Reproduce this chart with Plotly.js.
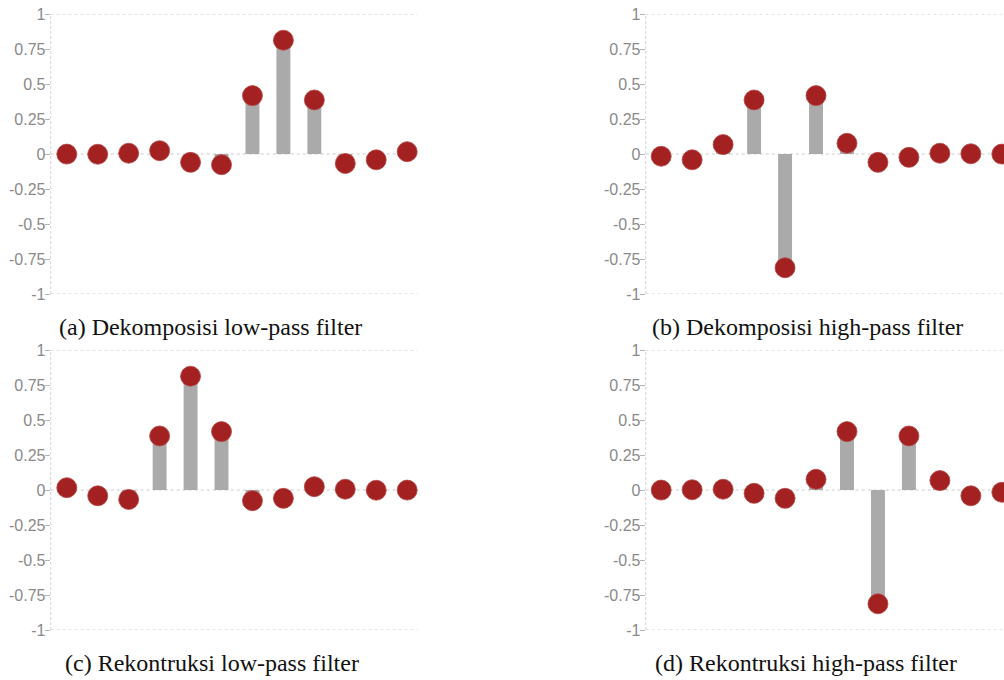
<!DOCTYPE html>
<html>
<head>
<meta charset="utf-8">
<script src="https://cdn.plot.ly/plotly-3.0.1.min.js"></script>
<style>
html,body{margin:0;padding:0;background:#fff;}
#chart{width:1004px;height:680px;}
</style>
</head>
<body>
<div id="chart"></div>
<script>
// Filter coefficients (12 taps each)
const taps = [0,1,2,3,4,5,6,7,8,9,10,11];
const decLow  = [-0.0007, -0.0018, 0.0056, 0.0237, -0.0594, -0.0765, 0.4170, 0.8127, 0.3861, -0.0674, -0.0415, 0.0164];
const decHigh = [-0.0164, -0.0415, 0.0674, 0.3861, -0.8127, 0.4170, 0.0765, -0.0594, -0.0237, 0.0056, 0.0018, -0.0007];
const recLow  = [0.0164, -0.0415, -0.0674, 0.3861, 0.8127, 0.4170, -0.0765, -0.0594, 0.0237, 0.0056, -0.0018, -0.0007];
const recHigh = [-0.0007, 0.0018, 0.0056, -0.0237, -0.0594, 0.0765, 0.4170, -0.8127, 0.3861, 0.0674, -0.0415, -0.0164];
const yTicks = [1, 0.75, 0.5, 0.25, 0, -0.25, -0.5, -0.75, -1];
const yTickText = ['1', '0.75', '0.5', '0.25', '0', '-0.25', '-0.5', '-0.75', '-1'];
const captions = ['(a) Dekomposisi low-pass filter', '(b) Dekomposisi high-pass filter',
                  '(c) Rekontruksi low-pass filter', '(d) Rekontruksi high-pass filter'];
const series = [decLow, decHigh, recLow, recHigh];

const W = 1004, H = 680;
const BAR = '#aaaaaa', DOT = '#a32121';
const panels = [
  {x0: 50.7, x1: 418, yTop: 14, yBot: 294, range: [-0.52, 11.35]},
  {x0: 645.7, x1: 1004, yTop: 14, yBot: 294, range: [-0.5, 11.07]},
  {x0: 50.7, x1: 418, yTop: 350, yBot: 630, range: [-0.52, 11.35]},
  {x0: 645.7, x1: 1004, yTop: 350, yBot: 630, range: [-0.5, 11.07]}
];
const capPos = [[210, 327], [807, 327], [211.5, 663], [806, 663]];

const data = [];
const layout = {
  width: W, height: H,
  margin: {l: 0, r: 0, t: 0, b: 0},
  paper_bgcolor: '#fff', plot_bgcolor: 'rgba(0,0,0,0)',
  showlegend: false, hovermode: false, barmode: 'overlay',
  shapes: [], annotations: []
};

panels.forEach((p, i) => {
  const n = i === 0 ? '' : String(i + 1);
  const xa = 'x' + n, ya = 'y' + n;
  data.push({type: 'bar', x: taps, y: series[i], width: 0.45, xaxis: xa, yaxis: ya,
             marker: {color: BAR, line: {width: 0}}});
  data.push({type: 'scatter', mode: 'markers', x: taps, y: series[i], xaxis: xa, yaxis: ya,
             cliponaxis: false,
             marker: {color: DOT, size: 20, line: {width: 0.8, color: '#b34545'}}});
  layout['xaxis' + n] = {
    domain: [p.x0 / W, p.x1 / W], range: p.range, anchor: ya,
    visible: false, fixedrange: true
  };
  layout['yaxis' + n] = {
    domain: [1 - p.yBot / H, 1 - p.yTop / H], range: [-1, 1], anchor: xa,
    showgrid: false, zeroline: false, showline: false,
    tickmode: 'array', tickvals: yTicks, ticktext: yTickText,
    ticks: 'outside', ticklen: 5, tickwidth: 1, tickcolor: '#b5b5b5',
    ticklabelstandoff: -4,
    tickfont: {family: 'Liberation Sans, Arial, sans-serif', size: 16, color: '#8a8a8a'},
    fixedrange: true
  };
  [1, 0, -1].forEach(v => {
    layout.shapes.push({type: 'line', xref: xa + ' domain', yref: ya, x0: 0, x1: 1, y0: v, y1: v,
      layer: 'below', line: {color: '#cccccc', width: 1, dash: '3px,3px'}});
  });
  layout.shapes.push({type: 'line', xref: xa + ' domain', yref: ya, x0: 0, x1: 0, y0: -1, y1: 1,
    layer: 'below', line: {color: '#d4d4d4', width: 1, dash: '3px,2px'}});
  layout.annotations.push({
    text: captions[i], xref: 'paper', yref: 'paper',
    x: capPos[i][0] / W, y: 1 - capPos[i][1] / H, xanchor: 'center', yanchor: 'middle',
    showarrow: false,
    font: {family: 'Liberation Serif, Times New Roman, serif', size: 24, color: '#111'}
  });
});

Plotly.newPlot('chart', data, layout, {staticPlot: true, displayModeBar: false});
</script>
</body>
</html>
